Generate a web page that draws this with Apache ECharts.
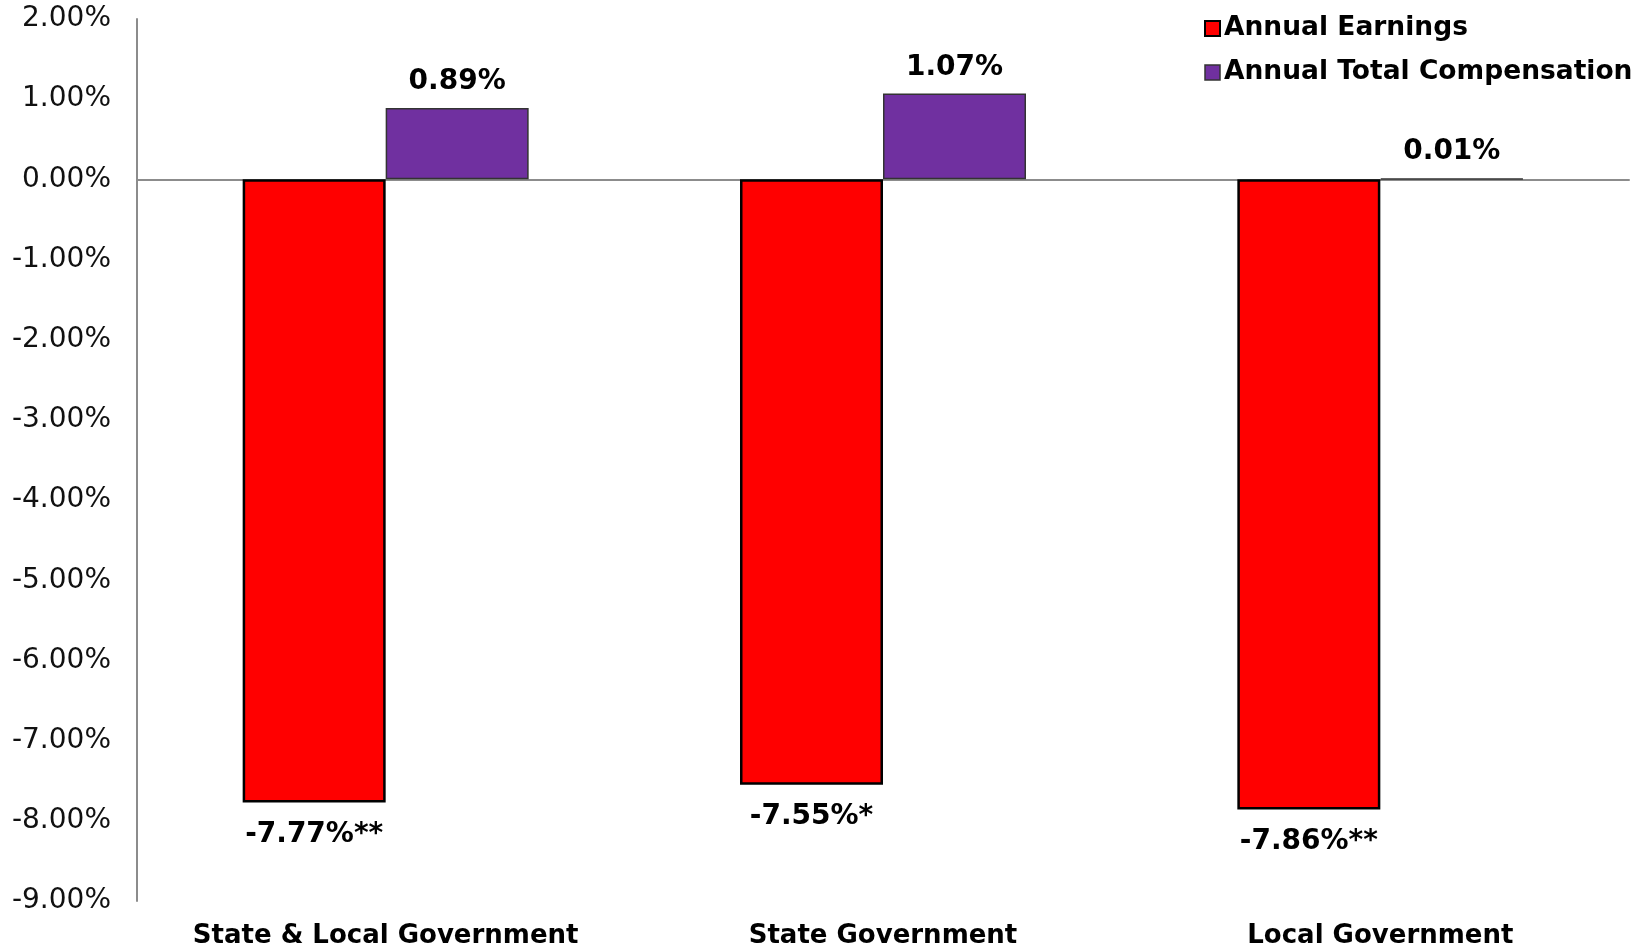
<!DOCTYPE html>
<html>
<head>
<meta charset="utf-8">
<script src="https://cdn.jsdelivr.net/npm/echarts@6/dist/echarts.min.js"></script>
<style>
html,body{margin:0;padding:0;background:#fff;}
#chart{width:1652px;height:950px;}
</style>
</head>
<body>
<div id="chart"></div>
<script>
const categories = ['State & Local Government', 'State Government', 'Local Government'];
const seriesNames = ['Annual Earnings', 'Annual Total Compensation'];
const earnings = [-7.77, -7.55, -7.86];
const compensation = [0.89, 1.07, 0.01];
const earningsSignificance = ['**', '*', '**'];
const yTicks = { min: -9, max: 2, interval: 1 };

const FONT = 'DejaVu Sans';
const chart = echarts.init(document.getElementById('chart'), null, { renderer: 'canvas' });

chart.setOption({
  animation: false,
  backgroundColor: '#ffffff',
  textStyle: { fontFamily: FONT },
  grid: { left: 137, right: 23, top: 19, bottom: 49, containLabel: false, outerBoundsMode: 'none' },
  legend: {
    orient: 'vertical',
    left: 1199,
    top: 10,
    itemWidth: 15,
    itemHeight: 15,
    itemGap: 17,
    icon: 'rect',
    textStyle: { fontFamily: FONT, fontSize: 26.5, fontWeight: 'bold', color: '#000', padding: [0, 0, 0, -1] },
    data: [
      { name: seriesNames[0], itemStyle: { color: '#FF0000', borderColor: '#000', borderWidth: 2 } },
      { name: seriesNames[1], itemStyle: { color: '#7030A0', borderColor: '#333', borderWidth: 1.5 } }
    ]
  },
  xAxis: [
    {
      type: 'category',
      data: categories,
      position: 'bottom',
      axisLine: { show: false, onZero: false },
      axisTick: { show: false },
      splitLine: { show: false },
      axisLabel: { fontFamily: FONT, fontSize: 26, fontWeight: 'bold', color: '#000', margin: 22, interval: 0 }
    },
    {
      type: 'category',
      data: categories,
      position: 'top',
      axisLine: { show: true, onZero: true, lineStyle: { color: '#8c8c8c', width: 2 } },
      axisTick: { show: false },
      axisLabel: { show: false },
      splitLine: { show: false }
    }
  ],
  yAxis: {
    type: 'value',
    min: yTicks.min,
    max: yTicks.max,
    interval: yTicks.interval,
    axisLine: { show: true, lineStyle: { color: '#8c8c8c', width: 2 } },
    axisTick: { show: false },
    splitLine: { show: false },
    axisLabel: {
      fontFamily: FONT, fontSize: 28, color: '#111', margin: 26,
      padding: [5, 0, 0, 0],
      formatter: v => v.toFixed(2) + '%'
    }
  },
  series: [
    {
      name: seriesNames[0],
      type: 'bar',
      xAxisIndex: 0,
      data: earnings,
      barWidth: 143,
      barGap: '0%',
      itemStyle: { color: '#FF0000', borderColor: '#000', borderWidth: 2.5 },
      label: {
        show: true,
        position: 'bottom',
        distance: 18,
        fontFamily: FONT, fontSize: 28, fontWeight: 'bold', color: '#000',
        formatter: p => p.value.toFixed(2) + '%' + earningsSignificance[p.dataIndex]
      }
    },
    {
      name: seriesNames[1],
      type: 'bar',
      xAxisIndex: 0,
      data: compensation,
      barWidth: 143,
      barGap: '0%',
      itemStyle: { color: '#7030A0', borderColor: '#333', borderWidth: 1.5 },
      label: {
        show: true,
        position: 'top',
        distance: 12,
        fontFamily: FONT, fontSize: 28, fontWeight: 'bold', color: '#000',
        formatter: p => p.value.toFixed(2) + '%'
      }
    }
  ]
});
</script>
</body>
</html>
